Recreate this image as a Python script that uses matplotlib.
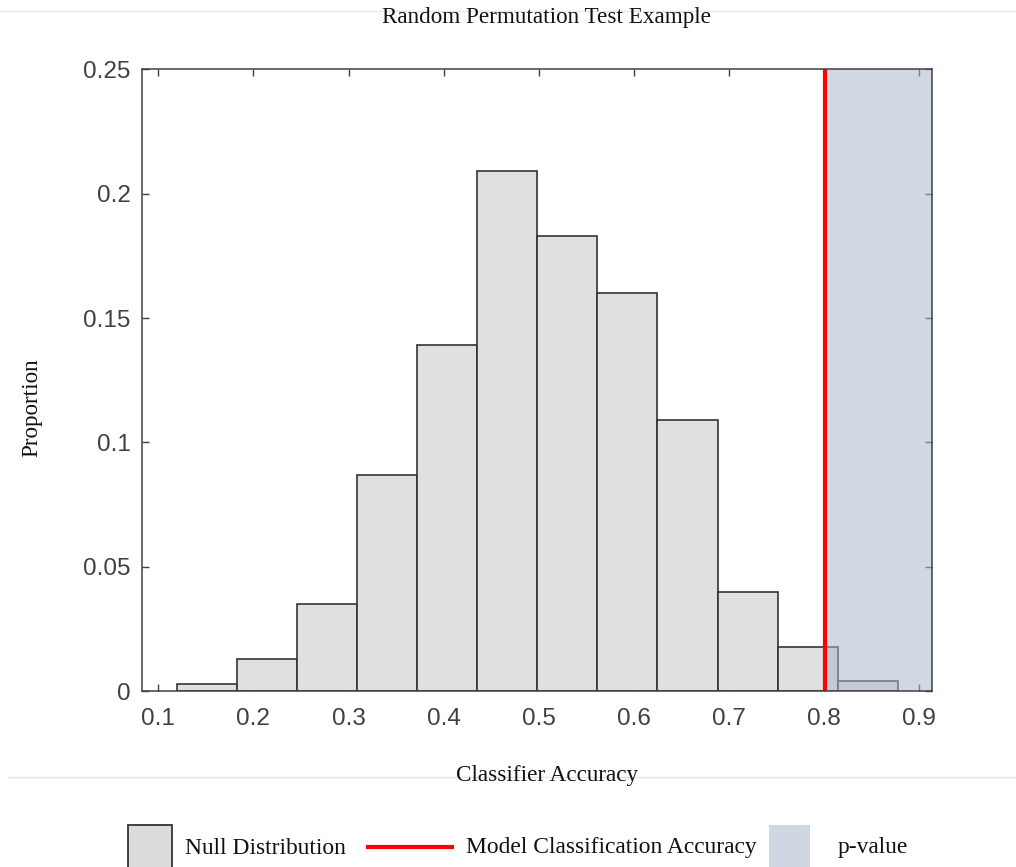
import numpy as np
import matplotlib.pyplot as plt
from matplotlib.patches import Rectangle
from matplotlib.lines import Line2D

# Null distribution histogram (proportion per bin)
bin_start = 0.1197
bin_width = 0.06316
proportions = [0.003, 0.013, 0.035, 0.087, 0.139, 0.209,
               0.183, 0.160, 0.109, 0.040, 0.018, 0.004]
model_accuracy = 0.8015
x_ticks = [0.1, 0.2, 0.3, 0.4, 0.5, 0.6, 0.7, 0.8, 0.9]
y_ticks = [0, 0.05, 0.1, 0.15, 0.2, 0.25]
y_tick_labels = ['0', '0.05', '0.1', '0.15', '0.2', '0.25']

serif = ['Liberation Serif', 'DejaVu Serif']
sans = ['Liberation Sans', 'DejaVu Sans']

W, H = 1016, 867
fig = plt.figure(figsize=(W / 100, H / 100), dpi=100)
ax = fig.add_axes([141.7 / W, 1 - 691.3 / H, (932.3 - 141.7) / W, (691.3 - 69.3) / H])

lefts = bin_start + bin_width * np.arange(len(proportions))
ax.bar(lefts, proportions, width=bin_width, align='edge',
       color='#e0e0e0', edgecolor='#333333', linewidth=1.2, zorder=2)

xlim = (0.0825, 0.914)
ax.axvspan(model_accuracy, xlim[1], color='#aab8cc', alpha=0.55, lw=0, zorder=3)
ax.axvline(model_accuracy, color='#ff0000', lw=3, zorder=4)

ax.set_xlim(*xlim)
ax.set_ylim(0, 0.25)
ax.set_xticks(x_ticks)
ax.set_xticklabels([f'{t:g}' for t in x_ticks])
ax.set_yticks(y_ticks)
ax.set_yticklabels(y_tick_labels)
ax.tick_params(direction='in', top=True, right=True, length=5, width=1,
               color='#404040', labelcolor='#404040', labelsize=17.5)
ax.tick_params(axis='x', pad=12)
ax.tick_params(axis='y', pad=8)
for lab in ax.get_xticklabels() + ax.get_yticklabels():
    lab.set_family(sans)
for s in ax.spines.values():
    s.set_color('#404040')
    s.set_linewidth(1.1)
    s.set_zorder(5)

# title, axis labels as figure text
fig.text(547 / W, 1 - 17 / H, 'Random Permutation Test Example', family=serif,
         fontsize=16.7, ha='center', va='center', color='#111111')
fig.text(547 / W, 1 - 776 / H, 'Classifier Accuracy', family=serif,
         fontsize=16.7, ha='center', va='center', color='#111111', zorder=3)
fig.text(32 / W, 1 - 408 / H, 'Proportion', family=serif, rotation=90,
         fontsize=16.7, ha='center', va='center', color='#111111')

# separator lines
fig.add_artist(Line2D([0, 1], [1 - 11 / H, 1 - 11 / H], color='#e8e8e8', lw=1, zorder=0))
fig.add_artist(Line2D([8 / W, 1], [1 - 777 / H, 1 - 777 / H], color='#e3e3e3', lw=1, zorder=0))

# legend
ly = 1 - 848 / H
fig.add_artist(Rectangle((128 / W, 1 - 880 / H), 44 / W, 55 / H,
                         facecolor='#dcdcdc', edgecolor='#333333', lw=1.3))
fig.text(185 / W, ly, 'Null Distribution', family=serif, fontsize=16.9,
         ha='left', va='center', color='#111111')
fig.add_artist(Line2D([368 / W, 452 / W], [1 - 846.7 / H, 1 - 846.7 / H],
                      color='#ff0000', lw=3))
fig.text(466 / W, ly, 'Model Classification Accuracy', family=serif, fontsize=16.9,
         ha='left', va='center', color='#111111')
fig.add_artist(Rectangle((769 / W, 1 - 880 / H), 41 / W, 55 / H,
                         facecolor='#cfd7e2', edgecolor='none'))
fig.text(838 / W, ly, 'p-value', family=serif, fontsize=16.9,
         ha='left', va='center', color='#111111')

fig.savefig('out.png', dpi=100)
